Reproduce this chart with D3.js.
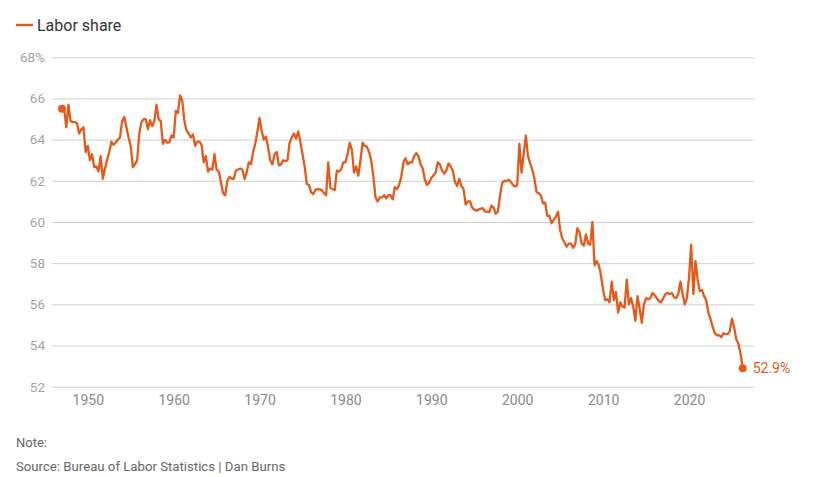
<!DOCTYPE html>
<html>
<head>
<meta charset="utf-8">
<script src="https://cdn.jsdelivr.net/npm/d3@7"></script>
<style>
  html, body { margin: 0; padding: 0; background: #fff; }
  svg { display: block; font-family: Roboto, "Noto Sans", Arial, sans-serif; }
</style>
</head>
<body>
<svg id="chart" width="821" height="477"></svg>
<script>
'use strict';

// quarterly labor share, 1947 Q1 onward
const startYear = 1947;
const laborShare = [
  65.5, 65.5, 64.6, 65.7, 64.9, 64.85, 64.85, 64.8, 64.3, 64.5,
  64.6, 63.4, 63.7, 63.0, 63.3, 62.66, 62.7, 62.45, 63.2, 62.1,
  62.6, 63.0, 63.4, 63.9, 63.75, 63.85, 64.0, 64.1, 64.9, 65.1,
  64.6, 64.1, 63.7, 62.66, 62.8, 63.0, 64.3, 64.85, 65.0, 65.0,
  64.5, 64.95, 64.65, 64.9, 65.7, 65.0, 64.9, 63.8, 64.0, 63.85,
  63.87, 64.2, 64.1, 65.4, 65.3, 66.15, 65.9, 64.9, 64.45, 64.3,
  64.1, 64.25, 63.7, 63.9, 63.9, 63.75, 62.9, 63.2, 62.45, 62.6,
  62.55, 63.3, 62.55, 62.45, 61.95, 61.4, 61.3, 62.0, 62.2, 62.1,
  62.1, 62.5, 62.55, 62.6, 62.55, 62.1, 62.4, 62.9, 62.8, 63.4,
  63.8, 64.4, 65.05, 64.4, 64.0, 64.15, 63.6, 63.0, 62.8, 63.3,
  63.4, 62.75, 62.8, 63.0, 62.95, 63.0, 63.85, 64.1, 64.3, 64.05,
  64.4, 63.9, 63.3, 62.7, 61.85, 61.8, 61.45, 61.35, 61.55, 61.6,
  61.58, 61.55, 61.4, 61.3, 62.9, 61.65, 61.6, 61.55, 62.5, 62.45,
  62.55, 62.9, 62.9, 63.3, 63.85, 63.5, 62.4, 62.7, 62.25, 63.0,
  63.85, 63.7, 63.65, 63.4, 63.0, 62.2, 61.2, 61.0, 61.2, 61.2,
  61.3, 61.15, 61.3, 61.3, 61.1, 61.7, 61.6, 61.8, 62.2, 62.9,
  63.1, 62.8, 62.9, 62.9, 63.2, 63.35, 63.2, 62.8, 62.6, 62.05,
  61.8, 61.9, 62.15, 62.25, 62.4, 62.9, 62.8, 62.5, 62.35, 62.5,
  62.85, 62.7, 62.5, 61.95, 61.75, 62.1, 61.75, 61.6, 60.85, 61.0,
  61.0, 60.7, 60.6, 60.55, 60.6, 60.65, 60.67, 60.5, 60.5, 60.48,
  60.8, 60.7, 60.4, 60.5, 61.3, 61.9, 62.0, 61.98, 62.05, 61.95,
  61.8, 61.72, 61.8, 63.8, 62.4, 63.3, 64.2, 63.2, 62.86, 62.55,
  62.1, 61.45, 61.4, 61.3, 60.9, 60.95, 60.3, 60.3, 59.94, 60.1,
  60.25, 60.5, 59.6, 59.2, 59.0, 58.8, 58.95, 58.95, 58.75, 58.9,
  59.7, 59.5, 58.95, 58.85, 59.4, 58.95, 58.9, 60.0, 57.9, 58.1,
  57.9, 57.4, 56.7, 56.2, 56.25, 56.1, 57.1, 56.2, 56.6, 55.6,
  56.1, 55.9, 55.85, 57.2, 56.0, 56.3, 55.9, 55.2, 56.4, 55.8,
  55.1, 56.0, 56.3, 56.25, 56.3, 56.55, 56.45, 56.3, 56.15, 56.1,
  56.3, 56.5, 56.55, 56.5, 56.55, 56.35, 56.3, 56.5, 57.1, 56.5,
  56.0, 56.3, 57.3, 58.9, 56.5, 58.1, 57.2, 56.65, 56.7, 56.4,
  56.2, 55.6, 55.3, 54.9, 54.6, 54.5, 54.5, 54.4, 54.6, 54.55,
  54.55, 54.7, 55.3, 54.9, 54.3, 54.1, 53.6, 52.9
];
const yTicks = [52, 54, 56, 58, 60, 62, 64, 66, 68];
const xTicks = [1950, 1960, 1970, 1980, 1990, 2000, 2010, 2020];
const seriesName = 'Labor share';
const note = 'Note:';
const source = 'Source: Bureau of Labor Statistics | Dan Burns';

const color = '#e5591a';
const data = laborShare.map((v, i) => ({ t: startYear + i / 4, v }));

const svg = d3.select('#chart');
const plot = { left: 52, right: 754, top: 57.3, bottom: 386.7 };

const x = d3.scaleLinear()
  .domain([1947, 2026.25])
  .range([62, 742.7]);
const y = d3.scaleLinear()
  .domain([52, 68])
  .range([plot.bottom, plot.top]);

// legend
svg.append('line')
  .attr('x1', 16).attr('x2', 33)
  .attr('y1', 25).attr('y2', 25)
  .attr('stroke', color)
  .attr('stroke-width', 2.5);
svg.append('text')
  .attr('x', 37).attr('y', 30.5)
  .attr('style', 'font-size:16px; fill:#333')
  .text(seriesName);

// y grid + labels
const yAxis = d3.axisLeft(y)
  .tickValues(yTicks)
  .tickSize(-(plot.right - plot.left))
  .tickPadding(7)
  .tickFormat(d => d === 68 ? d + '%' : d);
const gy = svg.append('g')
  .attr('transform', 'translate(' + plot.left + ',0)')
  .call(yAxis);
gy.select('.domain').remove();
gy.selectAll('.tick line')
  .attr('stroke', '#cfcfcf')
  .attr('stroke-width', 1);
gy.selectAll('.tick text')
  .attr('style', 'font-family: Roboto, sans-serif; font-size:13.5px; fill:#a3a3a3');

// x labels
const xAxis = d3.axisBottom(x)
  .tickValues(xTicks)
  .tickSize(0)
  .tickPadding(0)
  .tickFormat(d3.format('d'));
const gx = svg.append('g')
  .attr('transform', 'translate(0,' + (plot.bottom + 8) + ')')
  .call(xAxis);
gx.select('.domain').remove();
gx.selectAll('.tick text')
  .attr('dy', '0.75em')
  .attr('style', 'font-family: Roboto, sans-serif; font-size:14px; fill:#8a8a8a');

// line
const line = d3.line()
  .x(d => x(d.t))
  .y(d => y(d.v));
svg.append('path')
  .datum(data)
  .attr('d', line)
  .attr('fill', 'none')
  .attr('stroke', color)
  .attr('stroke-width', 2.3)
  .attr('stroke-linejoin', 'round');

const first = data[0];
const last = data[data.length - 1];
svg.selectAll('circle.end')
  .data([first, last])
  .enter().append('circle')
  .attr('class', 'end')
  .attr('cx', d => x(d.t))
  .attr('cy', d => y(d.v))
  .attr('r', 4)
  .attr('fill', color);

svg.append('text')
  .attr('x', x(last.t) + 10)
  .attr('y', y(last.v))
  .attr('dy', '0.35em')
  .attr('style', 'font-size:14px; fill:' + color)
  .text(d3.format('.1f')(last.v) + '%');

// footer
svg.append('text')
  .attr('x', 16).attr('y', 447)
  .attr('style', 'font-size:13px; fill:#666')
  .text(note);
svg.append('text')
  .attr('x', 16).attr('y', 471)
  .attr('style', 'font-size:13.2px; fill:#666')
  .text(source);
</script>
</body>
</html>
